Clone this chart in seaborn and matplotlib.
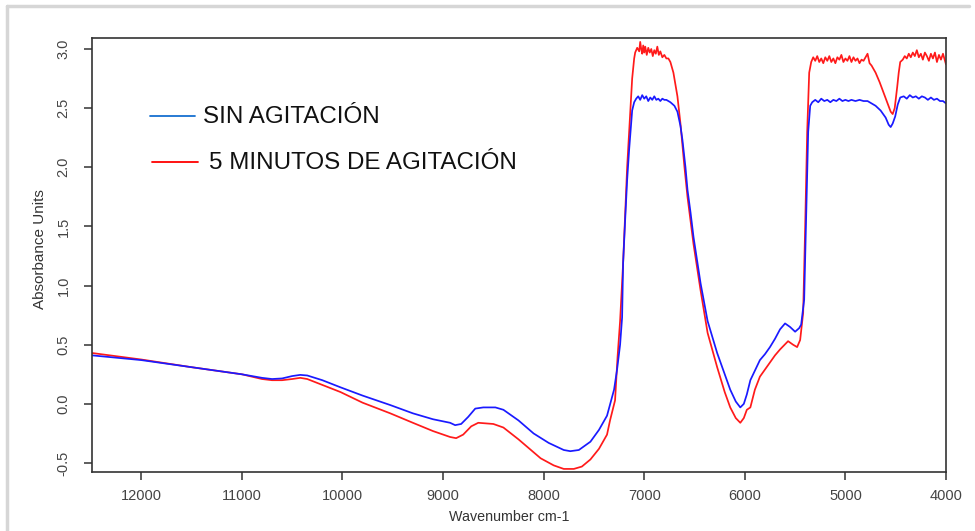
import matplotlib
matplotlib.use("Agg")
import matplotlib.pyplot as plt
import seaborn as sns
import pandas as pd
from matplotlib.lines import Line2D

# ---------------- data ----------------
series_names = ["SIN AGITACIÓN", "5 MINUTOS DE AGITACIÓN"]

wn_blue = [12490, 12000, 11500, 11000, 10800, 10700, 10600, 10500, 10420, 10350,
           10200, 10020, 9800, 9525, 9300, 9100, 8930, 8880, 8820, 8750,
           8680, 8600, 8480, 8400, 8250, 8100, 7950, 7800, 7735, 7650,
           7535, 7450, 7370, 7300, 7270, 7240, 7220, 7210, 7190, 7170,
           7150, 7140, 7120, 7100, 7080, 7060, 7040, 7020, 7000, 6980,
           6960, 6940, 6920, 6900, 6880, 6860, 6840, 6820, 6800, 6780,
           6760, 6740, 6700, 6670, 6640, 6620, 6590, 6570, 6540, 6510,
           6440, 6370, 6275, 6200, 6145, 6090, 6045, 6010, 5980, 5945,
           5900, 5850, 5800, 5750, 5700, 5650, 5600, 5550, 5500, 5460,
           5440, 5410, 5390, 5370, 5350, 5330, 5300, 5270, 5240, 5210,
           5180, 5150, 5120, 5090, 5060, 5030, 5000, 4970, 4940, 4900,
           4860, 4820, 4780, 4740, 4700, 4650, 4600, 4570, 4550, 4530,
           4505, 4480, 4455, 4420, 4390, 4360, 4330, 4300, 4270, 4240,
           4210, 4180, 4150, 4120, 4090, 4060, 4030, 4000]
abs_blue = [0.41, 0.37, 0.31, 0.25, 0.22, 0.21, 0.215, 0.235, 0.245, 0.24,
            0.20, 0.14, 0.07, -0.01, -0.08, -0.13, -0.16, -0.18, -0.17, -0.11,
            -0.04, -0.03, -0.03, -0.05, -0.14, -0.25, -0.33, -0.39, -0.40, -0.39,
            -0.32, -0.22, -0.10, 0.12, 0.29, 0.50, 0.73, 1.19, 1.55, 1.89,
            2.15, 2.26, 2.48, 2.55, 2.58, 2.60, 2.57, 2.61, 2.58, 2.60,
            2.56, 2.59, 2.57, 2.60, 2.57, 2.58, 2.56, 2.58, 2.57, 2.57,
            2.56, 2.55, 2.52, 2.47, 2.35, 2.23, 2.00, 1.81, 1.62, 1.41,
            1.02, 0.70, 0.43, 0.25, 0.12, 0.02, -0.03, 0.00, 0.08, 0.20,
            0.28, 0.37, 0.42, 0.48, 0.55, 0.63, 0.68, 0.65, 0.61, 0.64,
            0.67, 0.88, 1.60, 2.30, 2.52, 2.55, 2.57, 2.55, 2.58, 2.56,
            2.57, 2.55, 2.57, 2.56, 2.58, 2.56, 2.57, 2.56, 2.57, 2.56,
            2.57, 2.56, 2.56, 2.54, 2.52, 2.48, 2.42, 2.36, 2.34, 2.37,
            2.43, 2.53, 2.59, 2.60, 2.58, 2.61, 2.59, 2.60, 2.58, 2.60,
            2.59, 2.57, 2.59, 2.57, 2.58, 2.56, 2.56, 2.54]

wn_red = [12490, 12000, 11500, 11000, 10800, 10700, 10600, 10500, 10420, 10350,
          10200, 10020, 9800, 9525, 9300, 9100, 8930, 8870, 8800, 8720,
          8650, 8500, 8400, 8250, 8030, 7900, 7800, 7700, 7620, 7535,
          7450, 7370, 7340, 7290, 7265, 7240, 7210, 7190, 7170, 7150,
          7140, 7120, 7100, 7090, 7070, 7050, 7040, 7030, 7020, 7010,
          7000, 6990, 6975, 6960, 6945, 6930, 6915, 6900, 6885, 6870,
          6855, 6840, 6820, 6800, 6780, 6760, 6740, 6710, 6670, 6640,
          6600, 6570, 6540, 6510, 6440, 6370, 6275, 6200, 6145, 6090,
          6045, 6010, 5980, 5945, 5900, 5850, 5800, 5750, 5700, 5650,
          5570, 5520, 5480, 5450, 5420, 5400, 5380, 5360, 5340, 5320,
          5300, 5280, 5260, 5240, 5220, 5200, 5180, 5160, 5140, 5120,
          5100, 5080, 5060, 5040, 5020, 5000, 4980, 4960, 4940, 4920,
          4900, 4880, 4860, 4840, 4820, 4800, 4780, 4760, 4740, 4700,
          4660, 4620, 4580, 4550, 4530, 4510, 4485, 4470, 4455, 4430,
          4410, 4390, 4370, 4350, 4330, 4310, 4290, 4270, 4250, 4230,
          4210, 4190, 4170, 4150, 4130, 4110, 4090, 4070, 4050, 4030,
          4010, 4000]
abs_red = [0.43, 0.375, 0.31, 0.25, 0.21, 0.20, 0.20, 0.21, 0.22, 0.21,
           0.16, 0.10, 0.01, -0.08, -0.16, -0.23, -0.28, -0.29, -0.26, -0.19,
           -0.16, -0.17, -0.20, -0.30, -0.46, -0.52, -0.55, -0.55, -0.53, -0.47,
           -0.38, -0.26, -0.14, 0.03, 0.40, 0.70, 1.19, 1.60, 2.00, 2.30,
           2.46, 2.75, 2.92, 2.97, 3.01, 2.98, 3.06, 3.00, 2.96, 3.03,
           2.97, 3.02, 2.95, 3.01, 2.97, 3.00, 2.94, 2.99, 2.96, 3.02,
           2.95, 2.98, 2.93, 2.95, 2.92, 2.92, 2.89, 2.80, 2.60, 2.37,
           2.00, 1.75, 1.55, 1.35, 0.96, 0.60, 0.31, 0.10, -0.03, -0.12,
           -0.16, -0.12, -0.05, -0.03, 0.12, 0.23, 0.29, 0.35, 0.41, 0.46,
           0.53, 0.50, 0.48, 0.54, 0.77, 1.50, 2.30, 2.80, 2.89, 2.93,
           2.90, 2.94, 2.89, 2.92, 2.88, 2.93, 2.90, 2.94, 2.89, 2.92,
           2.88, 2.93, 2.91, 2.95, 2.89, 2.92, 2.90, 2.94, 2.89, 2.93,
           2.90, 2.92, 2.88, 2.91, 2.90, 2.93, 2.96, 2.88, 2.86, 2.80,
           2.72, 2.63, 2.54, 2.47, 2.45, 2.50, 2.68, 2.80, 2.89, 2.91,
           2.94, 2.92, 2.96, 2.93, 2.97, 2.94, 2.99, 2.93, 2.96, 2.91,
           2.97, 2.94, 2.90, 2.96, 2.92, 2.97, 2.89, 2.95, 2.91, 2.96,
           2.90, 2.87]

x_ticks = [12000, 11000, 10000, 9000, 8000, 7000, 6000, 5000, 4000]
y_ticks = [-0.5, 0.0, 0.5, 1.0, 1.5, 2.0, 2.5, 3.0]

# ---------------- figure ----------------
sns.set_theme(style="white")
plt.rcParams["font.family"] = ["Liberation Sans", "DejaVu Sans"]

W, H = 975, 531
fig = plt.figure(figsize=(W / 100, H / 100), dpi=100)
ax = fig.add_axes([92 / W, 1 - 472 / H, (946 - 92) / W, (472 - 38) / H])

df = pd.concat([
    pd.DataFrame({"wn": wn_red, "abs": abs_red, "series": series_names[1]}),
    pd.DataFrame({"wn": wn_blue, "abs": abs_blue, "series": series_names[0]}),
], ignore_index=True)

palette = {series_names[0]: "#1a1aff", series_names[1]: "#ff1a1a"}
sns.lineplot(data=df, x="wn", y="abs", hue="series", palette=palette,
             estimator=None, sort=False, linewidth=1.25, legend=False, ax=ax,
             hue_order=[series_names[1], series_names[0]])

ax.set_xlim(12490, 4000)
ax.set_ylim(-0.576, 3.093)
ax.set_xticks(x_ticks)
ax.set_xticklabels([str(v) for v in x_ticks])
ax.set_yticks(y_ticks)
ax.set_yticklabels([f"{v:.1f}" for v in y_ticks], rotation=90, va="center")

for s in ax.spines.values():
    s.set_visible(True)
    s.set_color("#333333")
    s.set_linewidth(1.2)

ax.tick_params(axis="both", which="both", direction="out", length=5.5,
               width=1.1, color="#333333", labelcolor="#444444", labelsize=10.5,
               bottom=True, left=True, top=False, right=False)
ax.tick_params(axis="y", pad=10)
ax.tick_params(axis="x", pad=7)

ax.set_xlabel("")
ax.set_ylabel("")
fig.text(509 / W, 1 - 517 / H, "Wavenumber cm-1", ha="center", va="center",
         fontsize=10.3, color="#333333")
fig.text(40 / W, 1 - 249 / H, "Absorbance Units", ha="center", va="center",
         rotation=90, fontsize=11, color="#333333")

# legend drawn inside plot area
fig.add_artist(Line2D([150 / W, 195 / W], [1 - 116 / H, 1 - 116 / H],
                      color="#1670d0", linewidth=1.3))
fig.add_artist(Line2D([152 / W, 198 / W], [1 - 162 / H, 1 - 162 / H],
                      color="#ff0000", linewidth=1.3))
fig.text(203 / W, 1 - 117 / H, series_names[0], ha="left", va="center",
         fontsize=17.4, color="#111111")
fig.text(209 / W, 1 - 163 / H, series_names[1], ha="left", va="center",
         fontsize=17.4, color="#111111")

# outer light frame
fig.add_artist(Line2D([7 / W, 7 / W], [0, 1 - 6 / H], color="#d6d6d6", linewidth=2.5))
fig.add_artist(Line2D([7 / W, 969 / W], [1 - 6 / H, 1 - 6 / H], color="#d6d6d6", linewidth=2.5))

fig.savefig("out.png", dpi=100)
